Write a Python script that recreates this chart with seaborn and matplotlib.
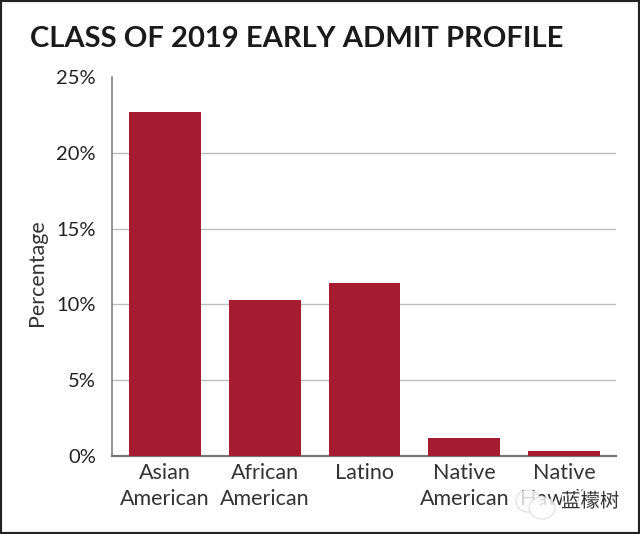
import matplotlib
matplotlib.use("Agg")
import matplotlib.pyplot as plt
import matplotlib.patheffects as pe
from matplotlib.patches import Ellipse, Rectangle
import pandas as pd
import seaborn as sns

categories = ["Asian\nAmerican", "African\nAmerican", "Latino", "Native\nAmerican", "Native\nHawaiian"]
percentages = [22.7, 10.3, 11.4, 1.2, 0.35]
y_ticks = [0, 5, 10, 15, 20, 25]
y_tick_labels = ["0%", "5%", "10%", "15%", "20%", "25%"]

sns.set_theme(style="white")
plt.rcParams["font.family"] = ["Lato", "Noto Sans CJK SC", "DejaVu Sans"]

df = pd.DataFrame({"group": categories, "pct": percentages})

fig = plt.figure(figsize=(6.4, 5.34), dpi=100, facecolor="white")
ax = fig.add_axes([112 / 640, 1 - 456 / 534, (616 - 112) / 640, (456 - 77) / 534])

sns.barplot(data=df, x="group", y="pct", color="#a51c30", saturation=1, width=0.72, linewidth=0, ax=ax, zorder=3)

ax.set_ylim(0, 25)
ax.set_xlim(-0.531, 4.52)
ax.set_yticks(y_ticks)
ax.set_yticklabels(y_tick_labels, fontsize=14.5, color="#222222")
ax.tick_params(axis="y", length=9.5, width=1, color="#333333", pad=2, direction="out")
ax.tick_params(axis="x", length=0, pad=5)
for lab in ax.get_xticklabels():
    lab.set_fontsize(15.5)
    lab.set_color("#333333")
    lab.set_linespacing(1.37)

ax.grid(axis="y", color="#bdbdbd", linewidth=1, zorder=0)
ax.set_axisbelow(True)
# no rule at the 25% tick
ax.get_ygridlines()[-1].set_visible(False)
sns.despine(ax=ax, top=True, right=True)
ax.spines["left"].set_color("#777777")
ax.spines["left"].set_linewidth(1.1)
ax.spines["bottom"].set_color("#777777")
ax.spines["bottom"].set_linewidth(1.6)

ax.set_xlabel("")
ax.set_ylabel("Percentage", fontsize=15.5, color="#333333", labelpad=7, y=0.483)

fig.text(30 / 640, 1 - 39 / 534, "CLASS OF 2019 EARLY ADMIT PROFILE", fontsize=21, fontweight="bold",
         color="#1a1a1a", ha="left", va="center")

# wechat watermark over the last label
for cx, cy, w, h in [(528, 501, 24, 22), (542, 508, 26, 22)]:
    fig.add_artist(Ellipse((cx / 640, 1 - cy / 534), w / 640, h / 534, transform=fig.transFigure,
                           facecolor="white", edgecolor="#dddddd", linewidth=1, alpha=0.8))
fig.text(561 / 640, 1 - 501 / 534, "蓝檬树", fontsize=14, color="#333333", ha="left", va="center",
         path_effects=[pe.withStroke(linewidth=2.5, foreground="white")])

# dark frame round the screenshot
fig.add_artist(Rectangle((0, 0), 1, 1, transform=fig.transFigure, fill=False, edgecolor="#222222", linewidth=3))

fig.savefig("out.png", dpi=100)
